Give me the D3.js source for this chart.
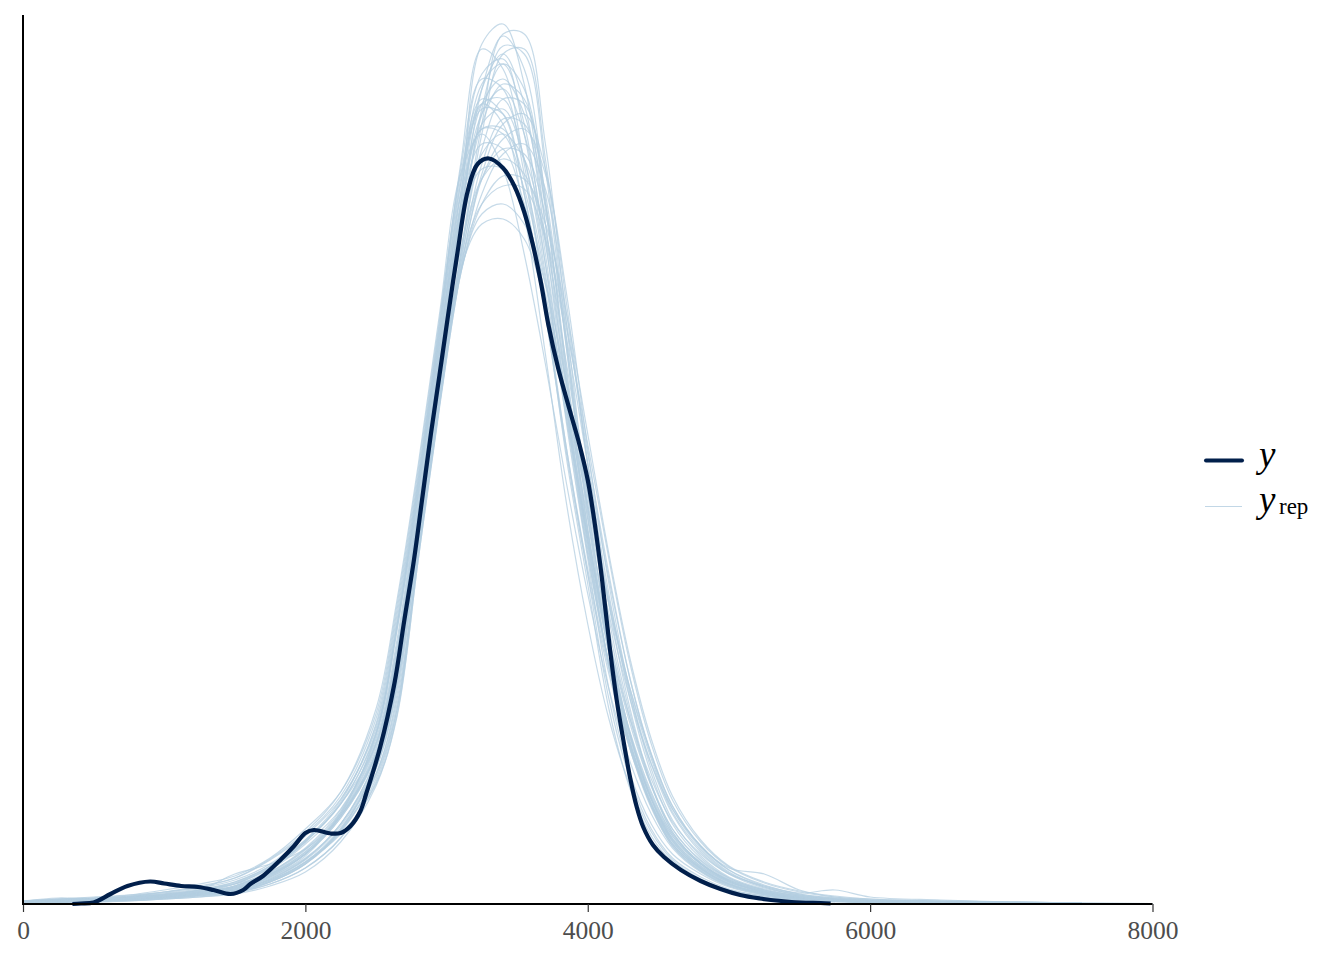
<!DOCTYPE html>
<html>
<head>
<meta charset="utf-8">
<script src="https://cdn.jsdelivr.net/npm/d3@7"></script>
<style>
  html, body { margin: 0; padding: 0; background: #ffffff; }
  svg { display: block; }
</style>
</head>
<body>
<svg id="chart" width="1344" height="960"></svg>
<script>
// ---- data (density values in units of 1e-6) ----
const xTicks = [0, 2000, 4000, 6000, 8000];
const legendY = "y";
const legendRepBase = "y";
const legendRepSub = "rep";

const obsX = [350, 410, 500, 620, 740, 900, 1000, 1120, 1240, 1350, 1470, 1560, 1610, 1700, 1830, 1920, 2000, 2060, 2180, 2250, 2320, 2390, 2430, 2530, 2630, 2700, 2770, 2830, 2890, 2950, 3010, 3080, 3150, 3220, 3300, 3400, 3480, 3550, 3610, 3670, 3720, 3790, 3870, 3940, 4000, 4050, 4100, 4158, 4205, 4252, 4299, 4347, 4393, 4462, 4540, 4660, 4800, 4940, 5080, 5220, 5370, 5510, 5650, 5720];
const obsDensity = [0, 0.5, 1.5, 10, 18, 22.5, 20.5, 18, 17, 14, 10, 14, 20, 28, 45, 58, 71, 74, 70.5, 71, 78, 93, 110, 157, 220, 283, 345, 408, 471, 529, 588, 654, 713, 740, 745.5, 736, 718, 692, 660, 620, 580, 536, 495, 460, 424, 380, 326, 254, 204, 164, 127, 97, 77, 59, 47, 34, 23, 15, 9, 5.5, 3, 1.5, 1, 0.5];

const repX = [0, 250, 500, 750, 1000, 1250, 1500, 1750, 2000, 2250, 2500, 2650, 2800, 2950, 3100, 3250, 3400, 3550, 3700, 3850, 4000, 4150, 4300, 4450, 4600, 4800, 5000, 5250, 5500, 5750, 6000, 6500, 7000, 7500, 8000];

const rep01 = [2,3,4,6,9,12,17,30,52,88,150,240,385,540,700,860,880,820,680,510,360,240,160,100,62,36,20,10,5,3,2,1,0.5,null,null];
const rep02 = [1,2,3,5,7,9,12,22,40,72,130,205,350,505,650,780,870,870,760,580,400,265,170,105,65,38,22,12,6,3,2,1,null,null,null];
const rep03 = [3,4,5,5,7,10,18,34,60,95,165,265,410,570,720,830,845,770,640,480,345,215,130,80,50,30,17,9,5,3,1.5,null,null,null,null];
const rep04 = [1,2,4,7,10,13,15,26,45,80,140,225,370,520,670,790,840,815,700,535,375,250,165,105,66,40,24,13,7,4,3,2,1,null,null];
const rep05 = [2,3,5,7,9,11,16,28,50,86,150,240,390,545,690,790,815,770,660,520,395,290,205,140,95,58,34,18,10,6,4,3,2,1,0.5];
const rep06 = [3,6,5,7,12,18,26,44,70,108,185,295,430,580,720,795,790,710,590,450,330,230,155,100,64,37,21,11,6,4,2,null,null,null,null];
const rep07 = [1,1,2,3,5,8,12,20,36,66,125,195,350,500,640,740,785,780,700,560,410,285,190,120,75,43,25,14,8,5,3,2,null,null,null];
const rep08 = [2,5,6,8,11,15,22,38,64,100,160,255,395,540,670,750,770,745,665,540,410,300,210,140,90,52,30,16,9,5,3,1.5,null,null,null];
const rep09 = [1,2,3,4,6,9,14,24,42,70,120,190,345,496,630,710,750,760,715,590,440,310,205,130,80,46,26,14,8,5,3,2,1,null,null];
const rep10 = [2,3,5,8,12,16,24,40,68,105,175,280,420,565,680,735,735,690,610,500,385,275,185,118,72,41,23,12,7,4,2.5,1,null,null,null];
const rep11 = [1,3,4,5,8,14,20,30,50,88,155,250,380,520,632,690,700,680,620,520,410,305,215,145,92,54,31,17,9,5,3,2,1,null,null];
const rep12 = [2,2,3,5,8,10,14,25,45,80,145,235,370,515,635,680,685,665,600,505,400,300,215,150,98,58,34,19,10,6,4,2.5,1.5,0.8,null];
const rep13 = [2,4,5,6,9,13,20,36,62,102,180,290,425,575,735,825,815,730,600,455,330,205,125,75,46,27,15,8,4,2.5,1.5,null,null,null,null];
const rep14 = [1,2,3,5,7,10,14,24,42,74,130,210,360,510,650,755,805,800,710,555,395,265,170,105,63,36,20,10,6,3,2,null,null,null,null];
const rep15 = [2,3,4,6,9,14,30,40,55,88,150,245,390,550,700,815,850,800,665,500,355,240,158,98,60,35,20,11,6,3.5,2,1.2,null,null,null];
const rep16 = [3,4,5,6,8,12,20,36,62,100,170,275,410,560,700,775,770,715,620,495,370,265,180,118,75,44,26,14,8,5,3,2,1.2,0.6,null];
const rep17 = [1,2,3,4,6,9,13,22,40,75,135,220,365,525,685,815,868,835,705,525,365,240,155,96,58,33,19,10,5,3,2,null,null,null,null];
const rep18 = [2,4,6,9,14,20,28,46,75,112,190,300,435,585,730,805,790,710,590,455,335,235,160,105,68,40,24,13,7,4,2.5,1.5,null,null,null];
const rep19 = [1,2,3,4,6,8,11,22,40,74,140,225,365,515,645,725,755,750,690,580,450,330,225,150,98,58,36,30,14,7,5,3,2,1,null];
const rep20 = [2,3,4,5,7,10,15,27,46,80,145,230,375,530,675,780,820,805,695,530,375,255,168,108,68,40,23,12,6,4,2.5,1.5,null,null,null];
const rep21 = [1,2,4,6,9,12,18,32,55,92,160,255,400,550,690,780,795,745,640,500,365,255,172,112,70,41,23,12,7,4,2,null,null,null,null];
const rep22 = [2,3,5,6,8,11,16,29,50,88,150,240,375,520,640,700,718,715,665,565,440,325,225,148,95,56,32,17,9,5,3,2,null,null,null];
const rep23 = [2,3,4,5,7,10,15,27,48,90,170,280,420,580,740,855,835,740,600,445,320,195,115,68,42,24,14,8,4,2,null,null,null,null,null];
const rep24 = [1,2,3,4,5,7,10,18,32,62,118,188,345,498,632,730,780,790,735,600,440,300,195,120,72,40,22,12,6,3,2,1,null,null,null];
const rep25 = [3,5,6,7,9,12,17,30,52,90,158,250,395,555,710,820,840,780,650,495,350,238,155,98,60,35,20,11,6,3,2,1,0.6,null,null];
const rep26 = [2,4,5,7,10,14,21,37,63,100,172,278,415,560,695,760,755,700,605,485,365,265,185,125,82,50,30,18,11,14,7,4,2,1,null];
const rep27 = [2,3,4,6,8,11,16,28,50,92,168,275,415,570,725,800,780,690,550,400,280,185,118,72,44,25,14,7,4,2,1,null,null,null,null];
const rep28 = [1,2,3,5,7,10,14,25,44,78,138,220,360,505,630,700,728,725,680,590,470,350,245,165,108,64,38,22,13,8,5,3,2,1,0.5];
const rep29 = [1,2,3,4,6,9,13,23,41,73,128,200,352,502,645,770,850,855,745,565,390,255,160,98,58,33,18,9,5,3,2,1,null,null,null];
const rep30 = [3,5,7,9,12,17,26,45,72,112,195,305,440,590,730,770,735,650,540,420,310,215,142,90,56,32,18,10,5,3,2,null,null,null,null];
const rep31 = [2,3,4,5,8,11,16,29,50,86,148,238,382,538,688,800,825,790,680,520,372,255,168,106,65,38,22,12,6,3.5,2,1,null,null,null];
const rep32 = [2,4,5,7,10,14,22,38,64,104,178,285,425,570,708,775,775,725,625,490,360,252,170,110,70,41,24,13,7,4,2.5,1.5,null,null,null];
const rep33 = [1,2,3,4,6,9,13,23,42,76,136,215,362,518,668,795,858,850,735,555,385,255,162,100,60,34,19,10,5,3,2,null,null,null,null];
const rep34 = [2,3,4,6,8,12,18,31,54,90,152,244,383,530,655,725,745,730,670,575,460,345,240,160,104,62,37,21,12,7,4,2.5,1.5,null,null];
const rep35 = [2,3,5,6,9,12,18,32,56,94,162,260,405,560,712,800,805,745,630,485,350,240,160,102,63,36,20,10,5,3,1.5,null,null,null,null];
const rep36 = [1,2,2,3,5,7,11,20,36,66,122,195,350,500,635,725,765,775,730,610,455,320,212,135,84,48,27,15,8,4,3,2,1,null,null];

const repSeries = [rep01, rep02, rep03, rep04, rep05, rep06, rep07, rep08, rep09, rep10, rep11, rep12,
                   rep13, rep14, rep15, rep16, rep17, rep18, rep19, rep20, rep21, rep22, rep23, rep24,
                   rep25, rep26, rep27, rep28, rep29, rep30, rep31, rep32, rep33, rep34, rep35, rep36];

// ---- drawing ----
const svg = d3.select("#chart");
const colorY = "#011f4b";
const colorRep = "#b3cde0";
const fontSerif = "'Liberation Serif', 'Times New Roman', serif";

const x = d3.scaleLinear().domain([0, 8000]).range([23, 1152.5]);
const y = d3.scaleLinear().domain([0, 889]).range([904, 15]);

const line = d3.line()
  .defined(d => d[1] != null)
  .x(d => x(d[0]))
  .y(d => y(Math.max(0, d[1])))
  .curve(d3.curveCatmullRom.alpha(0.5));

const gRep = svg.append("g");
repSeries.forEach(s => {
  const pts = repX.map((xv, i) => [xv, s[i]]);
  gRep.append("path")
    .attr("d", line(pts))
    .attr("fill", "none")
    .attr("stroke", colorRep)
    .attr("stroke-opacity", 0.75)
    .attr("stroke-width", 1.2);
});

svg.append("path")
  .attr("d", line(obsX.map((xv, i) => [xv, obsDensity[i]])))
  .attr("fill", "none")
  .attr("stroke", colorY)
  .attr("stroke-width", 4.2)
  .attr("stroke-linejoin", "round");

// x axis
const xAxis = d3.axisBottom(x).tickValues(xTicks).tickSize(8).tickPadding(9).tickFormat(d3.format("d"));
const gx = svg.append("g").attr("transform", "translate(0,904)").call(xAxis);
gx.select(".domain").attr("stroke", "#000").attr("stroke-width", 2.2).attr("d", `M${x(0)},0H${x(8000)}`);
gx.selectAll(".tick line").attr("stroke", "#333").attr("stroke-width", 1.2);
gx.selectAll(".tick text")
  .attr("font-family", fontSerif)
  .attr("font-size", 25.5)
  .attr("fill", "#4d4d4d")
  .attr("dy", "0.71em");

// y axis line only
const yAxis = d3.axisLeft(y).tickValues([]).tickSize(0);
const gy = svg.append("g").attr("transform", `translate(${x(0)},0)`).call(yAxis);
gy.select(".domain").attr("stroke", "#000").attr("stroke-width", 2).attr("d", `M0,${y(889)}V${y(0) + 1}`);

// legend
const lg = svg.append("g");
lg.append("line").attr("x1", 1206).attr("x2", 1242).attr("y1", 460.5).attr("y2", 460.5)
  .attr("stroke", colorY).attr("stroke-width", 4).attr("stroke-linecap", "round");
lg.append("text").attr("x", 1259).attr("y", 467)
  .attr("font-family", fontSerif).attr("font-style", "italic").attr("font-size", 37).attr("fill", "#000")
  .text(legendY);
lg.append("line").attr("x1", 1205).attr("x2", 1242).attr("y1", 506.5).attr("y2", 506.5)
  .attr("stroke", colorRep).attr("stroke-opacity", 0.8).attr("stroke-width", 1.2);
lg.append("text").attr("x", 1259).attr("y", 511.5)
  .attr("font-family", fontSerif).attr("font-style", "italic").attr("font-size", 37).attr("fill", "#000")
  .text(legendRepBase);
lg.append("text").attr("x", 1279).attr("y", 514)
  .attr("font-family", fontSerif).attr("font-size", 23).attr("fill", "#000")
  .text(legendRepSub);
</script>
</body>
</html>
